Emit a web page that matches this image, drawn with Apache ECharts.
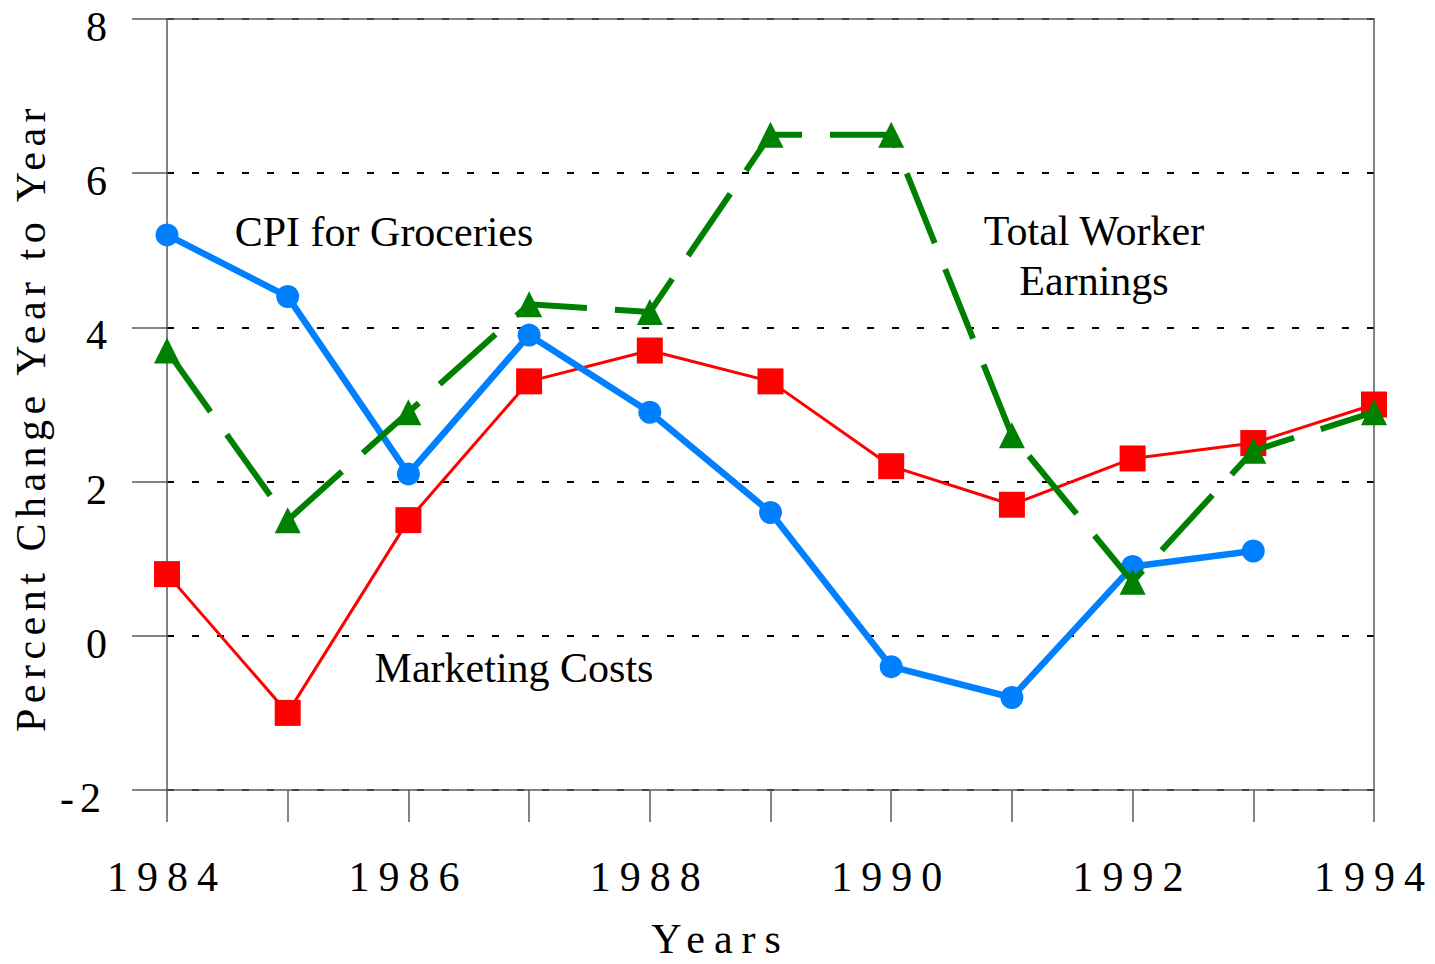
<!DOCTYPE html>
<html>
<head>
<meta charset="utf-8">
<script src="https://cdn.jsdelivr.net/npm/echarts@6/dist/echarts.min.js"></script>
<style>
html, body { margin: 0; padding: 0; background: #ffffff; }
#chart { width: 1435px; height: 964px; }
</style>
</head>
<body>
<div id="chart"></div>
<script>
// ---- data ----
const years = [1984, 1985, 1986, 1987, 1988, 1989, 1990, 1991, 1992, 1993, 1994];
const marketingCosts = [0.8, -1.0, 1.5, 3.3, 3.7, 3.3, 2.2, 1.7, 2.3, 2.5, 3.0];
const cpiGroceries = [5.2, 4.4, 2.1, 3.9, 2.9, 1.6, -0.4, -0.8, 0.9, 1.1, null];
const workerEarnings = [3.7, 1.5, 2.9, 4.3, 4.2, 6.5, 6.5, 2.6, 0.7, 2.4, 2.9];
const yTicks = [-2, 0, 2, 4, 6, 8];
const xLabelYears = [1984, 1986, 1988, 1990, 1992, 1994];
const xTitle = 'Years';
const yTitle = 'Percent Change Year to Year';
const annotations = ['CPI for Groceries', 'Total Worker\nEarnings', 'Marketing Costs'];

function pairs(vals) {
  const out = [];
  years.forEach((y, i) => { if (vals[i] !== null && vals[i] !== undefined) out.push([y, vals[i]]); });
  return out;
}

const AX = '#5a5a5a';
const FONT = 'Liberation Serif';

const chart = echarts.init(document.getElementById('chart'), null, { renderer: 'svg' });
chart.setOption({
  backgroundColor: '#ffffff',
  animation: false,
  grid: { left: 167, right: 61, top: 19, bottom: 174, show: false, containLabel: false, outerBoundsMode: 'none' },
  xAxis: [{
    type: 'value', min: years[0], max: years[years.length - 1], interval: 1,
    name: xTitle, nameLocation: 'middle', nameGap: 133,
    nameTextStyle: { fontFamily: FONT, fontSize: 42, lineHeight: 32, color: '#000', padding: [0, 100, 0, 0] },
    axisLine: { show: true, onZero: false, lineStyle: { color: AX, width: 1.5 } },
    axisTick: { show: true, length: 32, lineStyle: { color: AX, width: 1.5 } },
    axisLabel: {
      margin: 66, fontFamily: FONT, fontSize: 42, color: '#000',
      formatter: v => xLabelYears.indexOf(v) >= 0 ? String(v) : ''
    },
    splitLine: { show: false }
  }, {
    type: 'value', position: 'top', min: years[0], max: years[years.length - 1],
    axisLine: { show: true, onZero: false, lineStyle: { color: AX, width: 1.5 } },
    axisTick: { show: false }, axisLabel: { show: false }, splitLine: { show: false }
  }],
  yAxis: [{
    type: 'value', min: yTicks[0], max: yTicks[yTicks.length - 1], interval: 2,
    name: yTitle, nameLocation: 'middle', nameGap: 115,
    nameTextStyle: { fontFamily: FONT, fontSize: 42, color: '#000', padding: [0, 26, 0, 0] },
    axisLine: { show: true, onZero: false, lineStyle: { color: AX, width: 1.5 } },
    axisTick: { show: true, length: 35, lineStyle: { color: AX, width: 1.5 } },
    axisLabel: { margin: 60, fontFamily: FONT, fontSize: 42, color: '#000', verticalAlign: 'top', lineHeight: 16 },
    splitLine: { show: true, lineStyle: { color: '#000', width: 2, type: [7, 18] } }
  }, {
    type: 'value', position: 'right', min: yTicks[0], max: yTicks[yTicks.length - 1], interval: 2,
    axisLine: { show: true, onZero: false, lineStyle: { color: AX, width: 1.5 } },
    axisTick: { show: false }, axisLabel: { show: false }, splitLine: { show: false }
  }],
  series: [
    {
      name: 'Marketing Costs', type: 'line', data: pairs(marketingCosts),
      symbol: 'rect', symbolSize: 26, showAllSymbol: true,
      lineStyle: { color: '#ff0000', width: 3 },
      itemStyle: { color: '#ff0000' }, z: 3
    },
    {
      name: 'CPI for Groceries', type: 'line', data: pairs(cpiGroceries),
      symbol: 'circle', symbolSize: 23, showAllSymbol: true,
      lineStyle: { color: '#0080ff', width: 6.5 },
      itemStyle: { color: '#0080ff' }, z: 4
    },
    {
      name: 'Total Worker Earnings', type: 'line', data: pairs(workerEarnings),
      symbol: 'triangle', symbolSize: 26, showAllSymbol: true,
      lineStyle: { color: '#008000', width: 6, type: [75, 28] },
      itemStyle: { color: '#008000' }, z: 5
    }
  ],
  graphic: [
    { type: 'text', x: 384, y: 232, z: 10,
      style: { text: annotations[0], font: '42px Liberation Serif', fill: '#000', textAlign: 'center', textVerticalAlign: 'middle' } },
    { type: 'text', x: 1094, y: 256, z: 10,
      style: { text: annotations[1], font: '42px Liberation Serif', fill: '#000', textAlign: 'center', textVerticalAlign: 'middle', lineHeight: 50 } },
    { type: 'text', x: 514, y: 668, z: 10,
      style: { text: annotations[2], font: '42px Liberation Serif', fill: '#000', textAlign: 'center', textVerticalAlign: 'middle' } }
  ]
});

// letter-spaced axis texts, as in the reference
function spaceAxisTexts() {
  const texts = document.querySelectorAll('#chart svg text');
  texts.forEach(t => {
    const s = (t.textContent || '').trim();
    if (/^\d{4}$/.test(s) || s === xTitle) {
      t.style.letterSpacing = '9px';
    } else if (s === yTitle) {
      t.style.letterSpacing = '5.5px';
    } else if (s === '-2') {
      t.style.letterSpacing = '6px';
    }
  });
}
chart.on('finished', spaceAxisTexts);
chart.on('rendered', spaceAxisTexts);
setTimeout(spaceAxisTexts, 0);
setTimeout(spaceAxisTexts, 200);
setTimeout(spaceAxisTexts, 800);
</script>
</body>
</html>
